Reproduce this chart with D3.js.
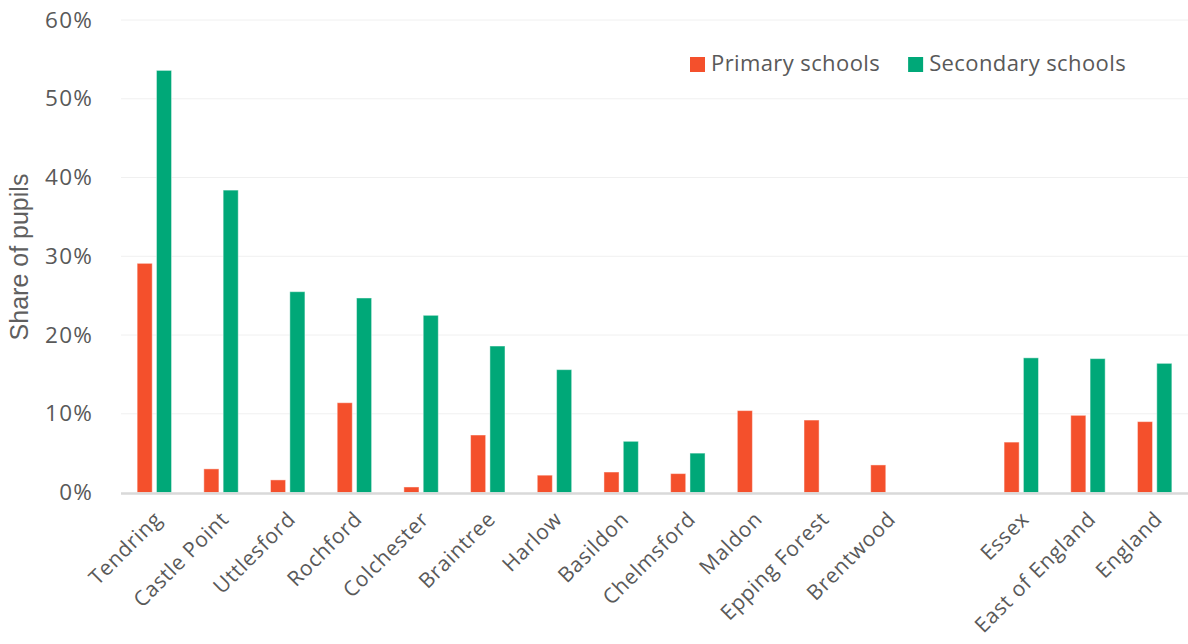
<!DOCTYPE html>
<html>
<head>
<meta charset="utf-8">
<script src="https://cdn.jsdelivr.net/npm/d3@7"></script>
<style>
  html, body { margin: 0; padding: 0; background: #fff; }
  svg { display: block; font-family: "Open Sans", sans-serif; }
</style>
</head>
<body>
<svg id="chart" width="1188" height="644"></svg>
<script>
// Areas in display order; the empty entry leaves a gap before the county / region / national totals.
const categories = ["Tendring", "Castle Point", "Uttlesford", "Rochford", "Colchester", "Braintree",
  "Harlow", "Basildon", "Chelmsford", "Maldon", "Epping Forest", "Brentwood", "",
  "Essex", "East of England", "England"];

// Share of pupils (%), null where no value is shown
const primaryValues = [29.1, 3.0, 1.6, 11.4, 0.7, 7.3, 2.2, 2.6, 2.4, 10.4, 9.2, 3.5, null, 6.4, 9.8, 9.0];
const secondaryValues = [53.6, 38.4, 25.5, 24.7, 22.5, 18.6, 15.6, 6.5, 5.0, null, null, null, null, 17.1, 17.0, 16.4];

const seriesNames = ["Primary schools", "Secondary schools"];
const seriesColors = ["#f4502c", "#00a878"];
const yTicks = [0, 10, 20, 30, 40, 50, 60];

const svg = d3.select("#chart");
const margin = { left: 121, right: 0, top: 20, bottom: 152 };
const W = 1188, H = 644;
const plotBottom = 492.5;

const x0 = d3.scaleBand().domain(categories).range([margin.left, W - margin.right]).padding(0);
const halfPair = 17.2;
const x1 = d3.scaleBand().domain(seriesNames).range([-halfPair, halfPair]).paddingInner(0.22).paddingOuter(0);
const y = d3.scaleLinear().domain([0, 60]).range([plotBottom, margin.top]);

// Horizontal gridlines
svg.append("g")
  .selectAll("line")
  .data(yTicks.filter(t => t > 0))
  .join("line")
  .attr("x1", margin.left).attr("x2", W - margin.right)
  .attr("y1", d => y(d)).attr("y2", d => y(d))
  .attr("stroke", "#f0f0f0").attr("stroke-width", 1);

// Y axis tick labels
const yAxis = d3.axisLeft(y).tickValues(yTicks).tickFormat(d => d + "%").tickSize(0).tickPadding(0);
const yg = svg.append("g").attr("transform", `translate(93,0)`).call(yAxis);
yg.select(".domain").remove();
yg.selectAll("text")
  .attr("font-size", 22.5)
  .attr("letter-spacing", 1.2)
  .attr("fill", "#595959")
  .attr("font-family", "'Open Sans', sans-serif");

// Y axis title
svg.append("text")
  .attr("transform", `translate(28,257) rotate(-90)`)
  .attr("text-anchor", "middle")
  .attr("font-size", 25)
  .attr("font-family", "'Liberation Sans', Arial, sans-serif")
  .attr("fill", "#5f5f5f")
  .text("Share of pupils");

// Bars
const rows = categories.map((c, i) => ({ cat: c, vals: [primaryValues[i], secondaryValues[i]] }));
const groups = svg.append("g").selectAll("g")
  .data(rows)
  .join("g")
  .attr("transform", d => `translate(${x0(d.cat) + x0.bandwidth() / 2},0)`);

groups.selectAll("rect")
  .data(d => d.vals.map((v, k) => ({ v, k })).filter(o => o.v != null))
  .join("rect")
  .attr("x", o => x1(seriesNames[o.k]))
  .attr("width", x1.bandwidth())
  .attr("y", o => y(o.v))
  .attr("height", o => y(0) - y(o.v))
  .attr("fill", o => seriesColors[o.k])
  .attr("stroke", "rgba(255,255,255,0.45)")
  .attr("stroke-width", 1);

// X axis baseline
svg.append("line")
  .attr("x1", margin.left).attr("x2", W - margin.right)
  .attr("y1", plotBottom + 1).attr("y2", plotBottom + 1)
  .attr("stroke", "#d9d9d9").attr("stroke-width", 2.5);

// Category labels, rotated
const xAxis = d3.axisBottom(x0).tickSize(0).tickPadding(0);
const xg = svg.append("g").attr("transform", `translate(0,${plotBottom})`).call(xAxis);
xg.select(".domain").remove();
xg.selectAll("text")
  .attr("font-size", 21)
  .attr("letter-spacing", 0.7)
  .attr("fill", "#595959")
  .attr("font-family", "'Open Sans', sans-serif")
  .attr("text-anchor", "end")
  .attr("dy", null)
  .attr("y", 0)
  .attr("transform", "translate(9,28) rotate(-45)");

// Legend
const legend = svg.append("g").attr("transform", "translate(690,0)");
let lx = 0;
seriesNames.forEach((name, k) => {
  legend.append("rect")
    .attr("x", lx).attr("y", 57).attr("width", 15).attr("height", 15)
    .attr("fill", seriesColors[k]);
  const t = legend.append("text")
    .attr("x", lx + 21).attr("y", 71)
    .attr("font-size", 22)
    .attr("letter-spacing", 0.4)
    .attr("fill", "#595959")
    .text(name);
  lx += 21 + t.node().getComputedTextLength() + 28;
});
</script>
</body>
</html>
